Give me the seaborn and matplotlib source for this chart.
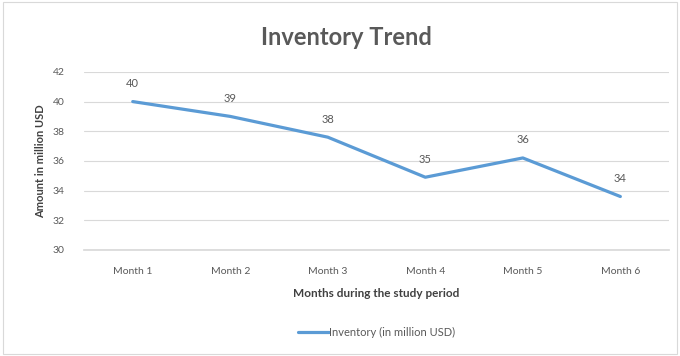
import matplotlib
matplotlib.use("Agg")
import matplotlib.pyplot as plt
import seaborn as sns
import pandas as pd

months = ["Month 1", "Month 2", "Month 3", "Month 4", "Month 5", "Month 6"]
inventory = [40.0, 39.0, 37.6, 34.9, 36.2, 33.6]
yticks = [30, 32, 34, 36, 38, 40, 42]

sns.set_theme(style="white")
plt.rcParams['font.family'] = ['Lato', 'DejaVu Sans']

df = pd.DataFrame({"Month": months, "Inventory (in million USD)": inventory})

fig = plt.figure(figsize=(6.8, 3.56), dpi=100)
ax = fig.add_axes([0.1235, 0.298, 0.8605, 0.500])
sns.lineplot(data=df, x="Month", y="Inventory (in million USD)", ax=ax,
             color="#5b9bd5", linewidth=2.3, label="Inventory (in million USD)", sort=False)

ax.set_xlim(-0.5, len(months) - 0.5)
ax.set_ylim(30, 42)
ax.set_yticks(yticks)
ax.set_yticklabels([str(t) for t in yticks])
ax.yaxis.grid(True, color="#d9d9d9", linewidth=0.8)
ax.xaxis.grid(False)
for s in ["top", "right", "left"]:
    ax.spines[s].set_visible(False)
ax.spines["bottom"].set_color("#d9d9d9")
ax.tick_params(axis="x", colors="#595959", labelsize=7.5, length=0, pad=12)
ax.tick_params(axis="y", colors="#595959", labelsize=7.5, length=0, pad=14)

for i, v in enumerate(inventory):
    ax.annotate(f"{v:.0f}", (i, v), textcoords="offset points", xytext=(0, 9),
                ha="center", va="bottom", fontsize=8, color="#595959")

ax.set_xlabel("Months during the study period", fontsize=8.5, fontweight="bold", color="#404040", labelpad=9)
ax.set_ylabel("Amount in million USD", fontsize=8, fontweight="bold", color="#404040", labelpad=5)

fig.text(0.51, 0.895, "Inventory Trend", ha="center", va="center", fontsize=17,
         fontweight="bold", color="#595959")

leg = ax.legend(loc="center", bbox_to_anchor=(0.5, -0.466), frameon=False, fontsize=8,
                handlelength=2.8, handletextpad=0.0)
for t in leg.get_texts():
    t.set_color("#595959")

border = plt.Rectangle((0.004, 0.006), 0.992, 0.988, transform=fig.transFigure,
                       fill=False, edgecolor="#d9d9d9", linewidth=0.8)
fig.patches.append(border)

fig.savefig("out.png", dpi=100)
